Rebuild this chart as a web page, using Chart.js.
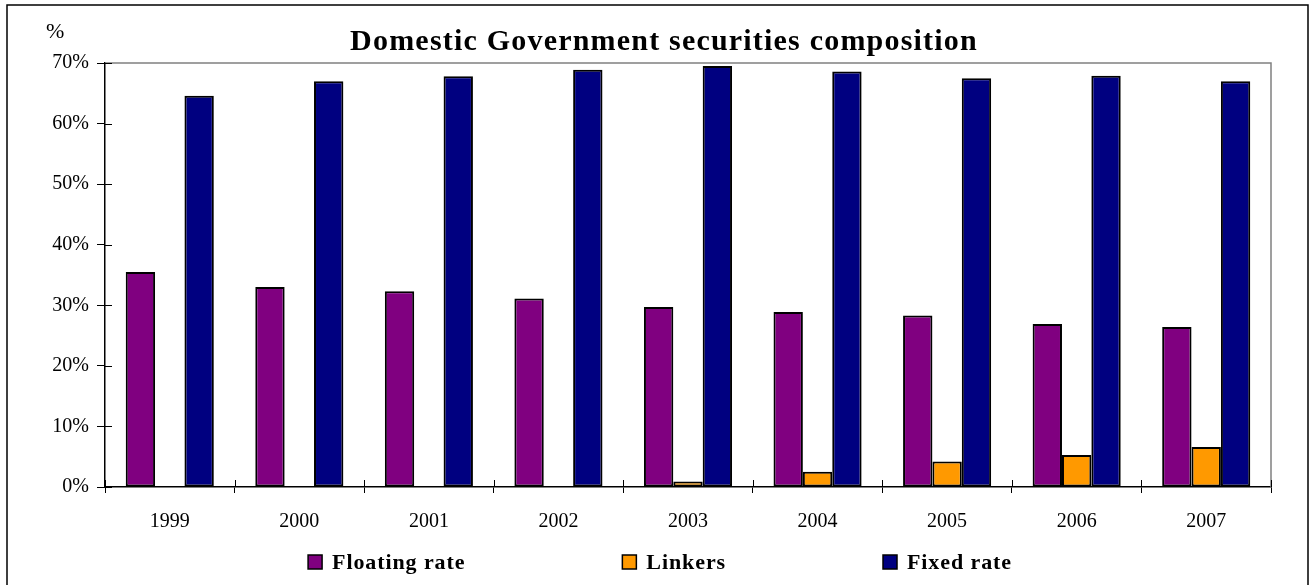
<!DOCTYPE html>
<html>
<head>
<meta charset="utf-8">
<script src="https://cdn.jsdelivr.net/npm/chart.js@4.4.1/dist/chart.umd.min.js"></script>
<style>
  html, body { margin: 0; padding: 0; background: #fff; }
  #wrap { position: relative; width: 1310px; height: 585px; }
</style>
</head>
<body>
<div id="wrap"><canvas id="mainChart" width="1310" height="585"></canvas></div>
<script>
// chart data
const years = ['1999', '2000', '2001', '2002', '2003', '2004', '2005', '2006', '2007'];
const floatingRate = [35.5, 33.0, 32.3, 31.1, 29.7, 28.9, 28.3, 26.9, 26.4];
const linkers = [0, 0, 0, 0, 0.9, 2.5, 4.2, 5.3, 6.6];
const fixedRate = [64.6, 67.0, 67.8, 68.9, 69.5, 68.6, 67.5, 67.9, 67.0];
const yTicks = [0, 10, 20, 30, 40, 50, 60, 70];

const titleText = 'Domestic Government securities composition';
const serif = "'Liberation Serif', 'Times New Roman', serif";

// frame, title, "%" label, crossing ticks, plot border and legend
const extras = {
  id: 'extras',
  beforeDraw(chart) {
    const ctx = chart.ctx;
    ctx.save();
    ctx.strokeStyle = '#000';
    ctx.lineWidth = 1.5;
    ctx.beginPath();
    ctx.moveTo(7, 585);
    ctx.lineTo(7, 5);
    ctx.lineTo(1308, 5);
    ctx.lineTo(1308, 585);
    ctx.stroke();
    ctx.restore();
  },
  afterDraw(chart) {
    const ctx = chart.ctx;
    const area = chart.chartArea;
    const x = chart.scales.x, y = chart.scales.y;
    ctx.save();

    // plot border top / right
    ctx.strokeStyle = '#808080';
    ctx.lineWidth = 1.5;
    ctx.beginPath();
    ctx.moveTo(area.left, area.top);
    ctx.lineTo(area.right, area.top);
    ctx.lineTo(area.right, area.bottom);
    ctx.stroke();

    // inner half of crossing ticks
    ctx.strokeStyle = '#000';
    ctx.lineWidth = 1;
    ctx.beginPath();
    yTicks.forEach(v => {
      const py = Math.round(y.getPixelForValue(v)) + 0.5;
      ctx.moveTo(area.left, py);
      ctx.lineTo(area.left + 7, py);
    });
    for (let i = 0; i <= years.length; i++) {
      const px = Math.round(x.getPixelForValue(i - 0.5)) + 0.5;
      ctx.moveTo(px, area.bottom);
      ctx.lineTo(px, area.bottom - 7);
    }
    ctx.stroke();

    // title
    ctx.fillStyle = '#000';
    ctx.font = 'bold 30px ' + serif;
    ctx.letterSpacing = '1.2px';
    ctx.textAlign = 'center';
    ctx.textBaseline = 'alphabetic';
    ctx.fillText(titleText, 664, 50);

    // unit label
    ctx.letterSpacing = '0px';
    ctx.font = '22px ' + serif;
    ctx.textAlign = 'left';
    ctx.fillText('%', 46, 38);

    // legend
    ctx.font = 'bold 22px ' + serif;
    ctx.letterSpacing = '0.9px';
    const items = chart.data.datasets.map(d => ({
      text: d.label, color: d.backgroundColor,
      w: 14 + 10 + ctx.measureText(d.label).width
    }));
    const gap = 157;
    const total = items.reduce((s, it) => s + it.w, 0) + gap * (items.length - 1);
    let lx = 660 - total / 2;
    const ly = 569;
    items.forEach(it => {
      ctx.fillStyle = it.color;
      ctx.fillRect(lx, ly - 14, 14, 14);
      ctx.strokeStyle = '#000';
      ctx.lineWidth = 1.5;
      ctx.strokeRect(lx, ly - 14, 14, 14);
      ctx.fillStyle = '#000';
      ctx.fillText(it.text, lx + 24, ly);
      lx += it.w + gap;
    });
    ctx.restore();
  }
};

new Chart('mainChart', {
  type: 'bar',
  data: {
    labels: years,
    datasets: [
      { label: 'Floating rate', data: floatingRate, backgroundColor: '#800080' },
      { label: 'Linkers', data: linkers, backgroundColor: '#FF9900' },
      { label: 'Fixed rate', data: fixedRate, backgroundColor: '#000080' }
    ]
  },
  options: {
    responsive: false,
    animation: false,
    events: [],
    layout: { padding: { left: 0, right: 39, top: 63, bottom: 38 } },
    datasets: {
      bar: {
        borderColor: '#000',
        borderWidth: 2,
        borderSkipped: false,
        categoryPercentage: 0.68,
        barPercentage: 1.0
      }
    },
    plugins: {
      legend: { display: false },
      title: { display: false },
      tooltip: { enabled: false }
    },
    scales: {
      x: {
        afterFit(scale) { scale.height = 60; },
        grid: { offset: true, drawOnChartArea: false, tickLength: 6, color: '#000' },
        border: { color: '#000', width: 1.5 },
        ticks: { color: '#000', padding: 17, font: { family: serif, size: 20 } }
      },
      y: {
        min: 0,
        max: 70,
        afterFit(scale) { scale.width = 105; },
        afterBuildTicks(scale) { scale.ticks = yTicks.map(v => ({ value: v })); },
        grid: { drawOnChartArea: false, tickLength: 8, color: '#000' },
        border: { color: '#000', width: 1.5 },
        ticks: {
          color: '#000', padding: 8,
          font: { family: serif, size: 20 },
          callback: v => v + '%'
        }
      }
    }
  },
  plugins: [extras]
});
</script>
</body>
</html>
